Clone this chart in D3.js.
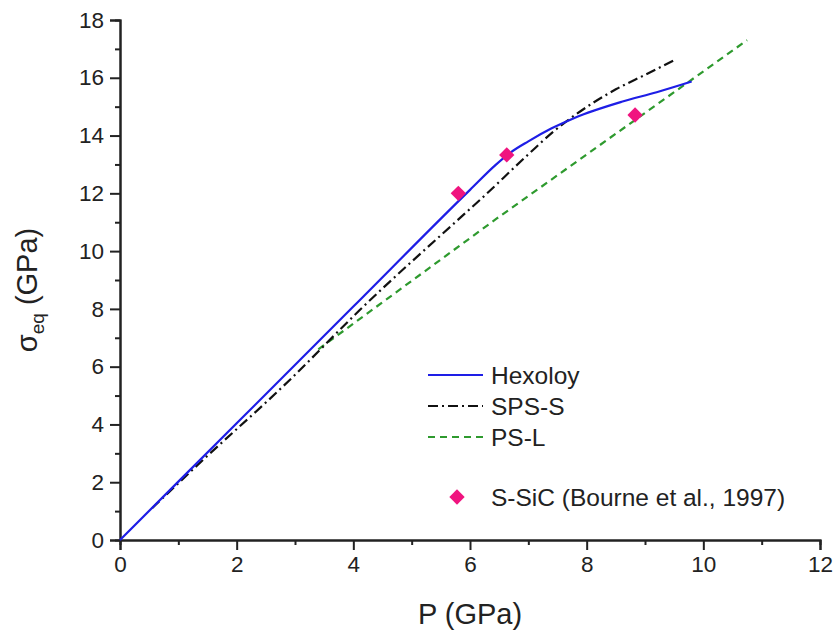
<!DOCTYPE html>
<html><head><meta charset="utf-8">
<script src="https://cdn.jsdelivr.net/npm/d3@7"></script>
<style>
html,body{margin:0;padding:0;background:#fff;}
svg{display:block;font-family:"Liberation Sans",Arial,Helvetica,sans-serif;}
</style></head>
<body>
<svg id="c" width="834" height="631"></svg>
<script>
// ---- data ----
const hexP     = [0, 2, 4, 6, 6.45, 6.7, 7.0, 7.4, 7.8, 8.6, 9.2, 9.8];
const hexS     = [0, 4.04, 8.08, 12.12, 13.0, 13.42, 13.8, 14.25, 14.62, 15.17, 15.5, 15.87];
const spsP     = [0.55, 1.3, 2.91, 4.11, 5.83, 6.17, 7.0, 7.46, 7.9, 8.5, 9.0, 9.49];
const spsS     = [1.1, 2.54, 5.54, 7.96, 11.15, 11.77, 13.35, 14.19, 14.85, 15.6, 16.1, 16.6];
const pslP     = [3.4, 6.46, 10.75];
const pslS     = [6.6, 11.13, 17.3];
const expP     = [5.8, 6.63, 8.83];
const expS     = [12.0, 13.33, 14.71];
const xTicks   = [0, 2, 4, 6, 8, 10, 12];
const yTicks   = [0, 2, 4, 6, 8, 10, 12, 14, 16, 18];
const seriesNames = ["Hexoloy", "SPS-S", "PS-L"];
const expName  = "S-SiC (Bourne et al., 1997)";

const svg = d3.select("#c");
const x = d3.scaleLinear().domain([0, 12]).range([120, 820]);
const y = d3.scaleLinear().domain([0, 18]).range([540, 20]);
const axisColor = "#222";

// minor ticks
const xMinor = d3.range(1, 12, 2);
const yMinor = d3.range(1, 18, 2);

const gx = svg.append("g").attr("transform", "translate(0,540)");
gx.call(d3.axisBottom(x).tickValues(xTicks).tickSize(10).tickPadding(6).tickFormat(d3.format("d")));
gx.append("g").call(d3.axisBottom(x).tickValues(xMinor).tickSize(5).tickFormat(""));
const gy = svg.append("g").attr("transform", "translate(120,0)");
gy.call(d3.axisLeft(y).tickValues(yTicks).tickSize(10).tickPadding(6).tickFormat(d3.format("d")));
gy.append("g").call(d3.axisLeft(y).tickValues(yMinor).tickSize(5).tickFormat(""));
svg.selectAll(".domain").attr("stroke", axisColor).attr("stroke-width", 2);
svg.selectAll(".tick line").attr("stroke", axisColor).attr("stroke-width", 2);
svg.selectAll(".tick text").attr("font-size", 22.5).attr("fill", "#222")
   .attr("font-family", "'Liberation Sans',Arial,sans-serif");
gx.select("g").select(".domain").remove();
gy.select("g").select(".domain").remove();

// axis titles
svg.append("text").attr("x", 470).attr("y", 624).attr("text-anchor", "middle")
  .attr("font-size", 29).attr("fill", "#222").text("P (GPa)");
const yt = svg.append("text").attr("transform", "translate(37,290) rotate(-90)")
  .attr("text-anchor", "middle").attr("font-size", 29).attr("fill", "#222");
yt.append("tspan").text("σ");
yt.append("tspan").attr("font-size", 19).attr("dy", 7).text("eq");
yt.append("tspan").attr("dy", -7).text(" (GPa)");

// lines
const line = d3.line().x(d => x(d[0])).y(d => y(d[1]));
const zip = (a, b) => a.map((v, i) => [v, b[i]]);

svg.append("path").datum(zip(pslP, pslS))
  .attr("d", line.curve(d3.curveLinear)).attr("fill", "none")
  .attr("stroke", "#2e9a2e").attr("stroke-width", 2.2).attr("stroke-dasharray", "7,5");
svg.append("path").datum(zip(spsP, spsS))
  .attr("d", line.curve(d3.curveMonotoneX)).attr("fill", "none")
  .attr("stroke", "#111").attr("stroke-width", 2.2).attr("stroke-dasharray", "10,4,2,4");
svg.append("path").datum(zip(hexP, hexS))
  .attr("d", line.curve(d3.curveMonotoneX)).attr("fill", "none")
  .attr("stroke", "#1e1ee6").attr("stroke-width", 2.2);

const diamond = d3.symbol().type(d3.symbolDiamond2).size(150);
svg.selectAll(".exp").data(zip(expP, expS)).enter().append("path")
  .attr("transform", d => `translate(${x(d[0])},${y(d[1])})`)
  .attr("d", diamond).attr("fill", "#f0147f");

// legend
const lg = svg.append("g");
const styles = [
  {stroke: "#1e1ee6", dash: null},
  {stroke: "#111", dash: "10,4,2,4"},
  {stroke: "#2e9a2e", dash: "7,5"}
];
const rowY = [375, 406, 437];
seriesNames.forEach((n, i) => {
  lg.append("line").attr("x1", 428).attr("x2", 483).attr("y1", rowY[i]).attr("y2", rowY[i])
    .attr("stroke", styles[i].stroke).attr("stroke-width", 2.2)
    .attr("stroke-dasharray", styles[i].dash);
  lg.append("text").attr("x", 491).attr("y", rowY[i] + 8.5).attr("font-size", 24.5)
    .attr("fill", "#222").text(n);
});
lg.append("path").attr("transform", "translate(457,497)").attr("d", diamond).attr("fill", "#f0147f");
lg.append("text").attr("x", 491).attr("y", 505.5).attr("font-size", 24.5).attr("fill", "#222").text(expName);
</script>
</body></html>
